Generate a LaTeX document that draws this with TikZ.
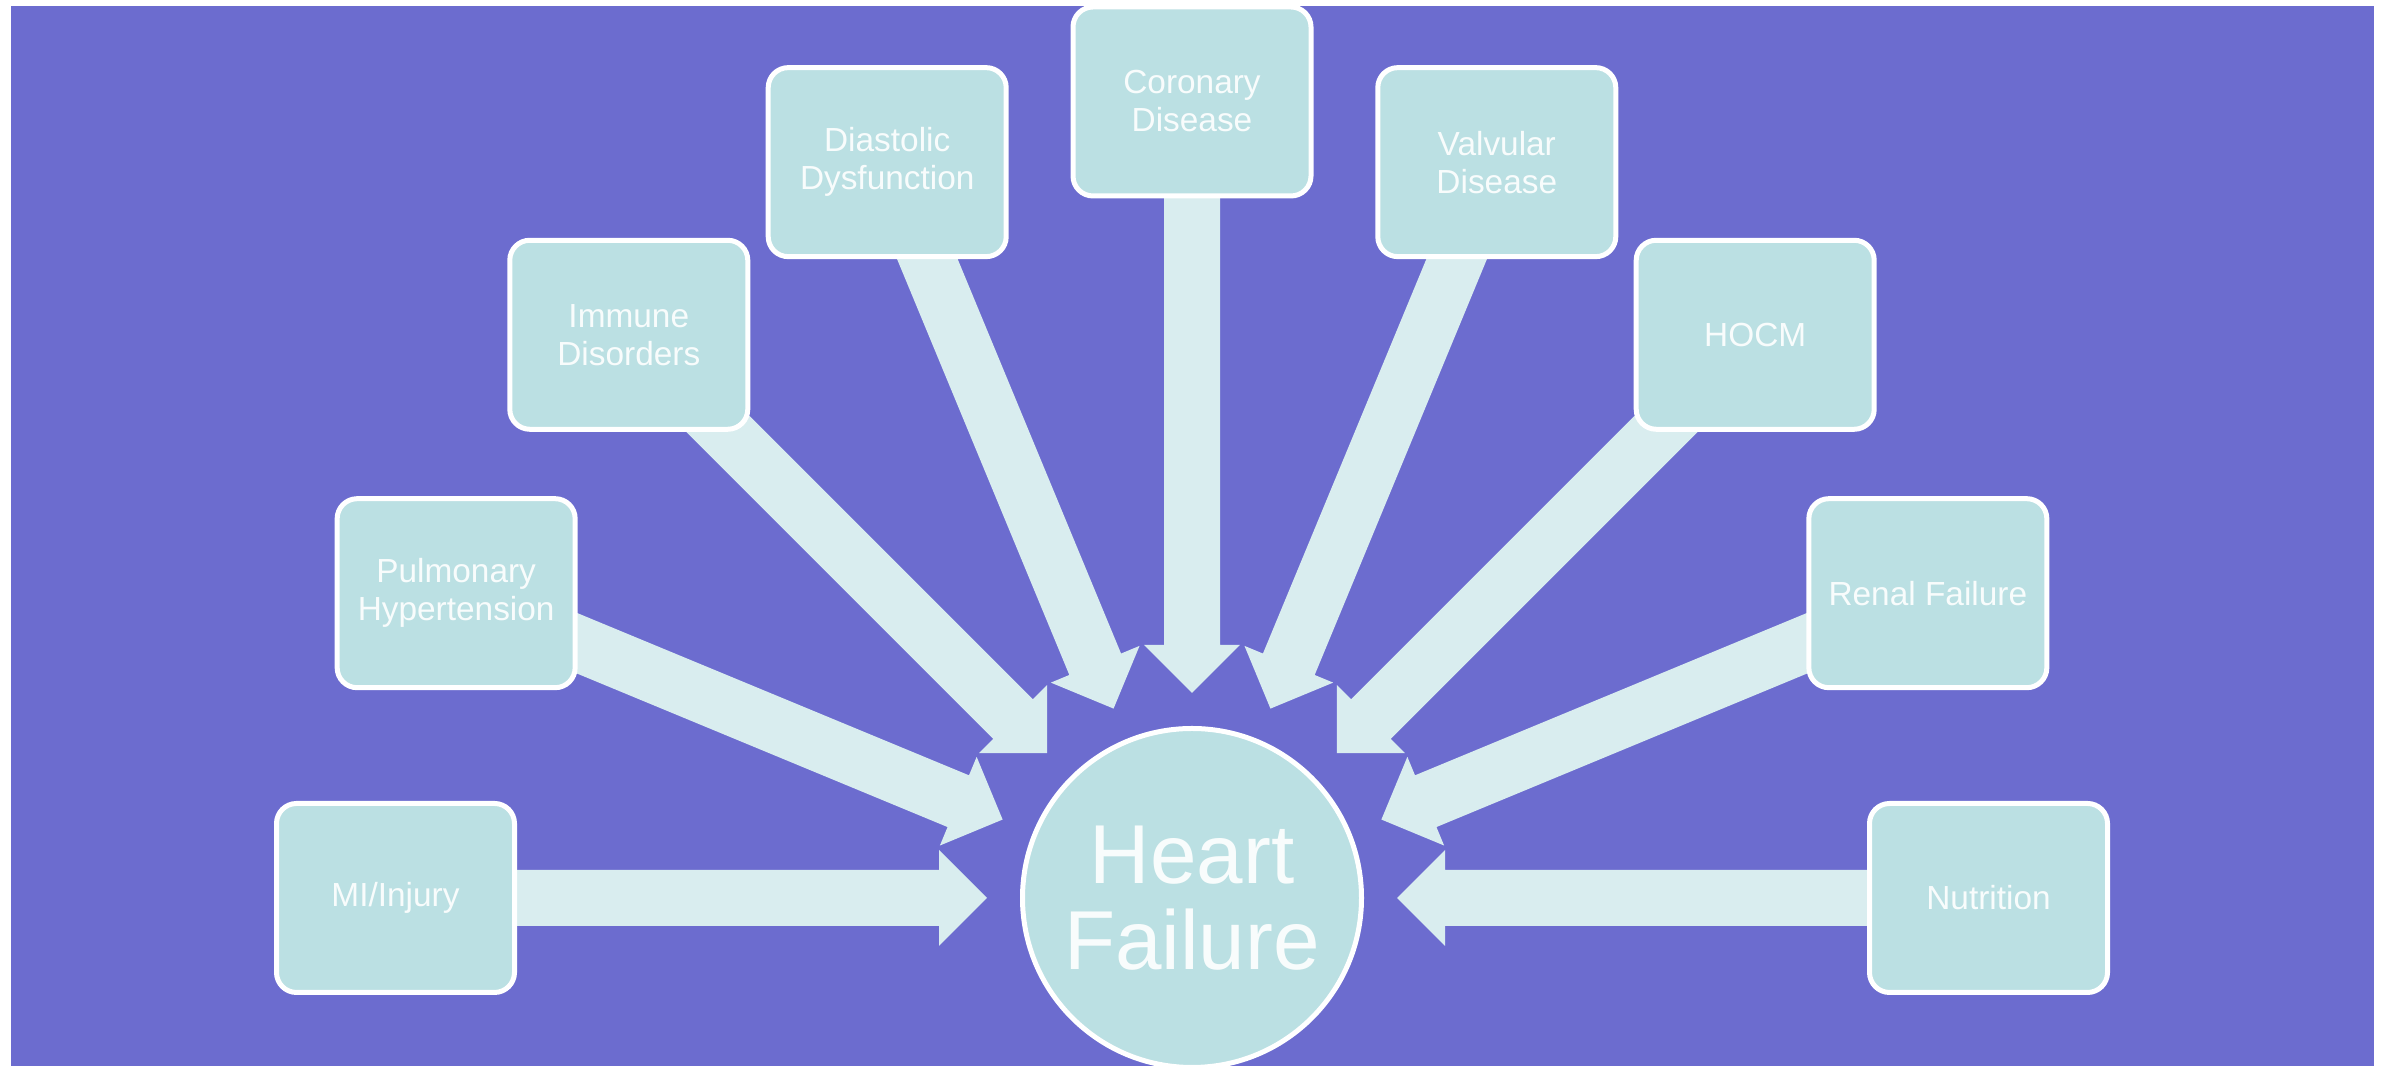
\documentclass[tikz,border=0pt]{standalone}
\usepackage{fontspec}
\setmainfont{Liberation Sans}
\usepackage{xcolor}
\usepackage{tikz}
\usetikzlibrary{calc,positioning}
\definecolor{bgpurple}{RGB}{108,108,207}
\definecolor{boxteal}{RGB}{187,224,227}
\definecolor{flowteal}{RGB}{217,237,239}
\definecolor{txtwhite}{RGB}{248,252,252}
\pgfdeclarelayer{flows}
\pgfsetlayers{flows,main}
\tikzset{
  cause/.style={rectangle,rounded corners=2mm,draw=white,line width=0.5mm,fill=boxteal,
    minimum width=2.38cm,minimum height=1.89cm,inner sep=0pt,align=center,
    text=txtwhite,font=\fontsize{9.5}{10.8}\selectfont},
  flow/.style={fill=flowteal}
}
% block arrow from a cause box (#1) towards the centre circle (#2)
\newcommand{\flowarrow}[2]{%
  \fill[flow] ($(#1)!0.28cm!-90:(#2)$)
    -- ($($(#2)!2.53cm!(#1)$)!0.28cm!90:(#1)$)
    -- ($($(#2)!2.53cm!(#1)$)!0.48cm!90:(#1)$)
    -- ($(#2)!2.05cm!(#1)$)
    -- ($($(#2)!2.53cm!(#1)$)!0.48cm!-90:(#1)$)
    -- ($($(#2)!2.53cm!(#1)$)!0.28cm!-90:(#1)$)
    -- ($(#1)!0.28cm!90:(#2)$) -- cycle;}
\begin{document}
\begin{tikzpicture}
    \useasboundingbox (0,0) rectangle (23.84,10.66);
    % background
    \begin{pgfonlayer}{flows}
    \fill[bgpurple] (0.11,0) rectangle (23.74,10.60);
    \end{pgfonlayer}
    % centre circle
    \node[circle,draw=white,line width=0.5mm,fill=boxteal,minimum size=3.39cm,inner sep=0pt,
      align=center,text=txtwhite,font=\fontsize{23.8}{24.4}\selectfont] (hf) at (11.92,1.68) {Heart\\Failure};
    % left side causes
    \node[cause] (mi)   at ([shift={(180:7.965)}]hf)   {MI/Injury};
    \node[cause] (pulm) at ([shift={(157.5:7.965)}]hf) {Pulmonary\\Hypertension};
    \node[cause] (imm)  at ([shift={(135:7.965)}]hf)   {Immune\\Disorders};
    \node[cause] (dias) at ([shift={(112.5:7.965)}]hf) {Diastolic\\Dysfunction};
    % top cause
    \node[cause] (cor)  at ([shift={(90:7.965)}]hf)    {Coronary\\Disease};
    % right side causes
    \node[cause] (valv) at ([shift={(67.5:7.965)}]hf)  {Valvular\\Disease};
    \node[cause] (hocm) at ([shift={(45:7.965)}]hf)    {HOCM};
    \node[cause] (ren)  at ([shift={(22.5:7.965)}]hf)  {Renal Failure};
    \node[cause] (nut)  at ([shift={(0:7.965)}]hf)     {Nutrition};
    % block arrows, behind the boxes
    \begin{pgfonlayer}{flows}
    \flowarrow{mi}{hf}
    \flowarrow{pulm}{hf}
    \flowarrow{imm}{hf}
    \flowarrow{dias}{hf}
    \flowarrow{cor}{hf}
    \flowarrow{valv}{hf}
    \flowarrow{hocm}{hf}
    \flowarrow{ren}{hf}
    \flowarrow{nut}{hf}
    \end{pgfonlayer}
\end{tikzpicture}
\end{document}
